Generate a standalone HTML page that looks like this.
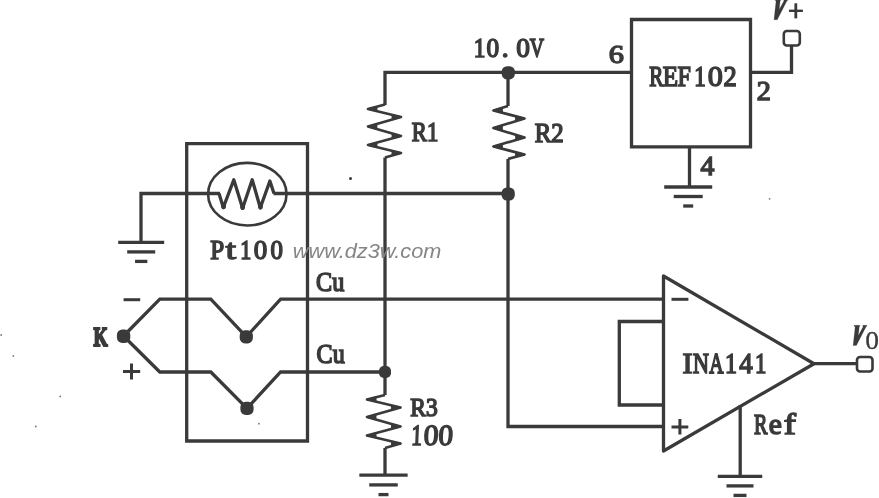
<!DOCTYPE html>
<html><head><meta charset="utf-8"><style>
html,body{margin:0;padding:0;background:#fff;}
svg{display:block;}
</style></head><body>
<svg width="879" height="498" viewBox="0 0 879 498">
<rect width="879" height="498" fill="#fff"/>
<path d="M385,105 L385,72.3 L631.5,72.3" fill="none" stroke="#3a3a3a" stroke-width="3.3" />
<polyline points="385.0,104.5 368.0,109.0 401.0,117.0 368.0,126.5 401.0,136.0 368.0,145.0 401.0,153.0 385.0,157.5" fill="none" stroke="#3a3a3a" stroke-width="2.7" stroke-linejoin="round"/>
<polygon points="368.0,109.0 376.7,106.7 376.7,111.1" fill="#3a3a3a" stroke="#3a3a3a" stroke-width="1.5" stroke-linejoin="round"/>
<polygon points="401.0,117.0 392.3,114.9 392.4,119.5" fill="#3a3a3a" stroke="#3a3a3a" stroke-width="1.5" stroke-linejoin="round"/>
<polygon points="368.0,126.5 376.6,124.0 376.6,129.0" fill="#3a3a3a" stroke="#3a3a3a" stroke-width="1.5" stroke-linejoin="round"/>
<polygon points="401.0,136.0 392.4,133.5 392.3,138.4" fill="#3a3a3a" stroke="#3a3a3a" stroke-width="1.5" stroke-linejoin="round"/>
<polygon points="368.0,145.0 376.7,142.6 376.7,147.1" fill="#3a3a3a" stroke="#3a3a3a" stroke-width="1.5" stroke-linejoin="round"/>
<polygon points="401.0,153.0 392.3,150.9 392.3,155.4" fill="#3a3a3a" stroke="#3a3a3a" stroke-width="1.5" stroke-linejoin="round"/>
<path d="M385,157.5 L385,395" fill="none" stroke="#3a3a3a" stroke-width="3.3" />
<path d="M508,72.3 L508,106" fill="none" stroke="#3a3a3a" stroke-width="3.3" />
<polyline points="508.0,106.0 493.5,110.5 524.5,118.5 493.5,128.0 524.5,137.5 493.5,146.5 524.5,154.5 508.0,159.0" fill="none" stroke="#3a3a3a" stroke-width="2.7" stroke-linejoin="round"/>
<polygon points="493.5,110.5 502.1,107.8 502.2,112.7" fill="#3a3a3a" stroke="#3a3a3a" stroke-width="1.5" stroke-linejoin="round"/>
<polygon points="524.5,118.5 515.8,116.3 515.9,121.1" fill="#3a3a3a" stroke="#3a3a3a" stroke-width="1.5" stroke-linejoin="round"/>
<polygon points="493.5,128.0 502.1,125.4 502.1,130.6" fill="#3a3a3a" stroke="#3a3a3a" stroke-width="1.5" stroke-linejoin="round"/>
<polygon points="524.5,137.5 515.9,134.9 515.9,140.0" fill="#3a3a3a" stroke="#3a3a3a" stroke-width="1.5" stroke-linejoin="round"/>
<polygon points="493.5,146.5 502.1,144.0 502.2,148.7" fill="#3a3a3a" stroke="#3a3a3a" stroke-width="1.5" stroke-linejoin="round"/>
<polygon points="524.5,154.5 515.8,152.3 515.8,156.9" fill="#3a3a3a" stroke="#3a3a3a" stroke-width="1.5" stroke-linejoin="round"/>
<path d="M508,159 L508,426.5 L663.5,426.5" fill="none" stroke="#3a3a3a" stroke-width="3.3" />
<polyline points="385.0,395.0 367.0,399.5 400.5,407.5 367.0,417.0 400.5,426.5 367.0,435.5 400.5,443.5 385.0,448.0" fill="none" stroke="#3a3a3a" stroke-width="2.7" stroke-linejoin="round"/>
<polygon points="367.0,399.5 375.7,397.3 375.8,401.6" fill="#3a3a3a" stroke="#3a3a3a" stroke-width="1.5" stroke-linejoin="round"/>
<polygon points="400.5,407.5 391.7,405.4 391.8,410.0" fill="#3a3a3a" stroke="#3a3a3a" stroke-width="1.5" stroke-linejoin="round"/>
<polygon points="367.0,417.0 375.7,414.5 375.7,419.5" fill="#3a3a3a" stroke="#3a3a3a" stroke-width="1.5" stroke-linejoin="round"/>
<polygon points="400.5,426.5 391.8,424.0 391.8,428.8" fill="#3a3a3a" stroke="#3a3a3a" stroke-width="1.5" stroke-linejoin="round"/>
<polygon points="367.0,435.5 375.7,433.2 375.8,437.6" fill="#3a3a3a" stroke="#3a3a3a" stroke-width="1.5" stroke-linejoin="round"/>
<polygon points="400.5,443.5 391.7,441.4 391.9,446.0" fill="#3a3a3a" stroke="#3a3a3a" stroke-width="1.5" stroke-linejoin="round"/>
<path d="M385,448 L385,475.2" fill="none" stroke="#3a3a3a" stroke-width="3.3" />
<path d="M631.5,19.5 L750.5,19.5 L750.5,146.8 L631.5,146.8 Z" fill="none" stroke="#3a3a3a" stroke-width="3.3" />
<path d="M750.5,72.3 L791.5,72.3 L791.5,46" fill="none" stroke="#3a3a3a" stroke-width="3.3" />
<rect x="783.8" y="31" width="16" height="14.5" rx="3" fill="#fff" stroke="#3a3a3a" stroke-width="2.6"/>
<path d="M689.5,146.8 L689.5,187" fill="none" stroke="#3a3a3a" stroke-width="3.3" />
<path d="M664.2,187 L712.2,187" fill="none" stroke="#3a3a3a" stroke-width="3.3" />
<path d="M673.7,196.5 L702.7,196.5" fill="none" stroke="#3a3a3a" stroke-width="3.3" />
<path d="M683.2,206.0 L693.2,206.0" fill="none" stroke="#3a3a3a" stroke-width="3.3" />
<path d="M118.19999999999999,242.4 L164.2,242.4" fill="none" stroke="#3a3a3a" stroke-width="3.3" />
<path d="M127.19999999999999,251.9 L155.2,251.9" fill="none" stroke="#3a3a3a" stroke-width="3.3" />
<path d="M135.04999999999998,261.4 L147.35,261.4" fill="none" stroke="#3a3a3a" stroke-width="3.3" />
<path d="M359.35,475.2 L407.65,475.2" fill="none" stroke="#3a3a3a" stroke-width="3.3" />
<path d="M369.25,484.9 L397.75,484.9" fill="none" stroke="#3a3a3a" stroke-width="3.3" />
<path d="M378.5,494.59999999999997 L388.5,494.59999999999997" fill="none" stroke="#3a3a3a" stroke-width="3.3" />
<path d="M717.75,476.4 L762.25,476.4" fill="none" stroke="#3a3a3a" stroke-width="3.3" />
<path d="M726.5,485.9 L753.5,485.9" fill="none" stroke="#3a3a3a" stroke-width="3.3" />
<path d="M733.5,495.4 L746.5,495.4" fill="none" stroke="#3a3a3a" stroke-width="3.3" />
<path d="M141,242.4 L141,193.5 L220,193.5" fill="none" stroke="#3a3a3a" stroke-width="3.3" />
<path d="M273.5,193.5 L508,193.5" fill="none" stroke="#3a3a3a" stroke-width="3.3" />
<path d="M186.7,143.6 L307.5,143.6 L307.5,441 L186.7,441 Z" fill="none" stroke="#3a3a3a" stroke-width="3.3" />
<ellipse cx="247.3" cy="194.2" rx="39.2" ry="31.3" fill="none" stroke="#3a3a3a" stroke-width="2.6"/>
<path d="M219,193.5 L223.3,207.5 L233.8,179.8 L242.6,208.3 L252.2,179.8 L260.3,207.8 L269.9,181 L274,193.5" fill="none" stroke="#3a3a3a" stroke-width="3.3" stroke-linejoin="round"/>
<ellipse cx="223.6" cy="206.3" rx="2.4" ry="3" fill="#3a3a3a"/>
<ellipse cx="242.6" cy="207" rx="2.4" ry="3" fill="#3a3a3a"/>
<ellipse cx="260.5" cy="206.6" rx="2.4" ry="3" fill="#3a3a3a"/>
<path d="M123.5,336 L159.8,299.2 L210.8,299.2 L246.3,336.8 L280.6,299.2 L663.5,299.2" fill="none" stroke="#3a3a3a" stroke-width="3.3" />
<path d="M123.5,336 L159.8,372 L210.8,372 L247,408.3 L280.6,372 L385,372" fill="none" stroke="#3a3a3a" stroke-width="3.3" />
<path d="M663.5,276 L814,363.7 L663.5,451 Z" fill="none" stroke="#3a3a3a" stroke-width="3.3" stroke-linejoin="round"/>
<path d="M663.5,321.5 L619.3,321.5 L619.3,405 L663.5,405" fill="none" stroke="#3a3a3a" stroke-width="3.3" />
<path d="M814,363.7 L857,363.7" fill="none" stroke="#3a3a3a" stroke-width="3.3" />
<rect x="857" y="357" width="15.5" height="14.5" rx="3" fill="#fff" stroke="#3a3a3a" stroke-width="2.6"/>
<path d="M740.2,405.3 L740.2,476.4" fill="none" stroke="#3a3a3a" stroke-width="3.3" />
<path d="M671.5,299.3 L688.4,299.3" fill="none" stroke="#3a3a3a" stroke-width="3" />
<path d="M671.5,427 L688.3,427 M679.9,419 L679.9,434.6" fill="none" stroke="#3a3a3a" stroke-width="3" />
<path d="M123.6,299.7 L140.2,299.7" fill="none" stroke="#3a3a3a" stroke-width="3" />
<path d="M123,371.5 L140.2,371.5 M131.5,363.6 L131.5,379.4" fill="none" stroke="#3a3a3a" stroke-width="3" />
<path d="M789,10.8 L802.9,10.8" fill="none" stroke="#3a3a3a" stroke-width="2.4" />
<path d="M795.8,3.3 L795.8,18.4" fill="none" stroke="#3a3a3a" stroke-width="2.8" />
<rect x="501.7" y="66.2" width="13.2" height="13.2" rx="5.3" fill="#3a3a3a"/>
<rect x="501.6" y="187.4" width="13.2" height="13.2" rx="5.3" fill="#3a3a3a"/>
<rect x="116.9" y="329.5" width="13.4" height="13.4" rx="5.4" fill="#3a3a3a"/>
<rect x="239.7" y="330.2" width="13.2" height="13.2" rx="5.3" fill="#3a3a3a"/>
<rect x="240.4" y="401.7" width="13.2" height="13.2" rx="5.3" fill="#3a3a3a"/>
<rect x="379.0" y="366.0" width="12.0" height="12.0" rx="4.8" fill="#3a3a3a"/>
<circle cx="350.5" cy="178.6" r="1.5" fill="#3a3a3a"/>
<circle cx="769.6" cy="198.8" r="0.9" fill="#777"/>
<circle cx="1.2" cy="335" r="0.9" fill="#777"/>
<circle cx="13.3" cy="355.9" r="0.9" fill="#777"/>
<circle cx="60.2" cy="396.4" r="0.9" fill="#777"/>
<circle cx="258.9" cy="423.7" r="0.9" fill="#777"/>
<circle cx="35.8" cy="426.5" r="0.9" fill="#777"/>
<path d="M854.1,325.3 L859.8,325.3 L859.8,326.5 L859.3,326.5 L858.3,335.5 L863.3,326.5 L862.8,326.5 L862.8,325.3 L866.8,325.3 L866.8,326.5 L866.2,326.5 L856.4,345.6 L853.1,345.6 L855.2,326.5 L854.1,326.5 Z" fill="#3a3a3a" stroke="#3a3a3a" stroke-width="0.2"/>
<path d="M854.1,325.3 L859.8,325.3 L859.8,326.5 L859.3,326.5 L858.3,335.5 L863.3,326.5 L862.8,326.5 L862.8,325.3 L866.8,325.3 L866.8,326.5 L866.2,326.5 L856.4,345.6 L853.1,345.6 L855.2,326.5 L854.1,326.5 Z" transform="translate(-79.1,-325.9)" fill="#3a3a3a" stroke="#3a3a3a" stroke-width="0.2"/>
<g style="will-change:transform">
<g transform="translate(473.65,56.62) scale(0.7750,0.9116)"><text x="0" y="0" font-family="Liberation Serif" font-weight="normal" font-style="normal" font-size="30.00" fill="#3a3a3a" stroke="#3a3a3a" stroke-width="1.50" vector-effect="non-scaling-stroke" xml:space="preserve">1</text></g>
<g transform="translate(486.58,56.62) scale(0.8429,0.9116)"><text x="0" y="0" font-family="Liberation Serif" font-weight="normal" font-style="normal" font-size="30.00" fill="#3a3a3a" stroke="#3a3a3a" stroke-width="1.50" vector-effect="non-scaling-stroke" xml:space="preserve">0</text></g>
<g transform="translate(501.75,56.62) scale(0.9200,0.9116)"><text x="0" y="0" font-family="Liberation Serif" font-weight="normal" font-style="normal" font-size="30.00" fill="#3a3a3a" stroke="#3a3a3a" stroke-width="1.50" vector-effect="non-scaling-stroke" xml:space="preserve">.</text></g>
<g transform="translate(516.24,56.62) scale(0.9143,0.9116)"><text x="0" y="0" font-family="Liberation Serif" font-weight="normal" font-style="normal" font-size="30.00" fill="#3a3a3a" stroke="#3a3a3a" stroke-width="1.50" vector-effect="non-scaling-stroke" xml:space="preserve">0</text></g>
<g transform="translate(529.83,56.62) scale(0.6578,0.9116)"><text x="0" y="0" font-family="Liberation Serif" font-weight="normal" font-style="normal" font-size="30.00" fill="#3a3a3a" stroke="#3a3a3a" stroke-width="1.50" vector-effect="non-scaling-stroke" xml:space="preserve">V</text></g>
<g transform="translate(649.30,85.58) scale(0.7036,0.9647)"><text x="0" y="0" font-family="Liberation Serif" font-weight="normal" font-style="normal" font-size="30.00" fill="#3a3a3a" stroke="#3a3a3a" stroke-width="1.50" vector-effect="non-scaling-stroke" xml:space="preserve">R</text></g>
<g transform="translate(662.80,85.58) scale(0.8343,0.9647)"><text x="0" y="0" font-family="Liberation Serif" font-weight="normal" font-style="normal" font-size="30.00" fill="#3a3a3a" stroke="#3a3a3a" stroke-width="1.50" vector-effect="non-scaling-stroke" xml:space="preserve">E</text></g>
<g transform="translate(677.40,85.58) scale(0.8000,0.9647)"><text x="0" y="0" font-family="Liberation Serif" font-weight="normal" font-style="normal" font-size="30.00" fill="#3a3a3a" stroke="#3a3a3a" stroke-width="1.50" vector-effect="non-scaling-stroke" xml:space="preserve">F</text></g>
<g transform="translate(694.27,85.58) scale(0.7667,0.9647)"><text x="0" y="0" font-family="Liberation Serif" font-weight="normal" font-style="normal" font-size="30.00" fill="#3a3a3a" stroke="#3a3a3a" stroke-width="1.50" vector-effect="non-scaling-stroke" xml:space="preserve">1</text></g>
<g transform="translate(707.70,85.58) scale(1.0071,0.9647)"><text x="0" y="0" font-family="Liberation Serif" font-weight="normal" font-style="normal" font-size="30.00" fill="#3a3a3a" stroke="#3a3a3a" stroke-width="1.50" vector-effect="non-scaling-stroke" xml:space="preserve">0</text></g>
<g transform="translate(723.46,85.58) scale(0.8815,0.9647)"><text x="0" y="0" font-family="Liberation Serif" font-weight="normal" font-style="normal" font-size="30.00" fill="#3a3a3a" stroke="#3a3a3a" stroke-width="1.50" vector-effect="non-scaling-stroke" xml:space="preserve">2</text></g>
<g transform="translate(682.55,373.08) scale(1.0105,0.9647)"><text x="0" y="0" font-family="Liberation Serif" font-weight="normal" font-style="normal" font-size="30.00" fill="#3a3a3a" stroke="#3a3a3a" stroke-width="1.50" vector-effect="non-scaling-stroke" xml:space="preserve">I</text></g>
<g transform="translate(693.00,373.08) scale(0.7356,0.9647)"><text x="0" y="0" font-family="Liberation Serif" font-weight="normal" font-style="normal" font-size="30.00" fill="#3a3a3a" stroke="#3a3a3a" stroke-width="1.50" vector-effect="non-scaling-stroke" xml:space="preserve">N</text></g>
<g transform="translate(709.33,373.08) scale(0.6593,0.9647)"><text x="0" y="0" font-family="Liberation Serif" font-weight="normal" font-style="normal" font-size="30.00" fill="#3a3a3a" stroke="#3a3a3a" stroke-width="1.50" vector-effect="non-scaling-stroke" xml:space="preserve">A</text></g>
<g transform="translate(725.10,373.08) scale(0.8000,0.9647)"><text x="0" y="0" font-family="Liberation Serif" font-weight="normal" font-style="normal" font-size="30.00" fill="#3a3a3a" stroke="#3a3a3a" stroke-width="1.50" vector-effect="non-scaling-stroke" xml:space="preserve">1</text></g>
<g transform="translate(739.22,373.08) scale(0.8968,0.9647)"><text x="0" y="0" font-family="Liberation Serif" font-weight="normal" font-style="normal" font-size="30.00" fill="#3a3a3a" stroke="#3a3a3a" stroke-width="1.50" vector-effect="non-scaling-stroke" xml:space="preserve">4</text></g>
<g transform="translate(755.08,373.08) scale(0.7583,0.9647)"><text x="0" y="0" font-family="Liberation Serif" font-weight="normal" font-style="normal" font-size="30.00" fill="#3a3a3a" stroke="#3a3a3a" stroke-width="1.50" vector-effect="non-scaling-stroke" xml:space="preserve">1</text></g>
<g transform="translate(210.30,259.00) scale(0.8369,0.9349)"><text x="0" y="0" font-family="Liberation Serif" font-weight="normal" font-style="normal" font-size="30.00" fill="#3a3a3a" stroke="#3a3a3a" stroke-width="1.50" vector-effect="non-scaling-stroke" xml:space="preserve">P</text></g>
<g transform="translate(225.44,259.00) scale(1.2737,0.9349)"><text x="0" y="0" font-family="Liberation Serif" font-weight="normal" font-style="normal" font-size="30.00" fill="#3a3a3a" stroke="#3a3a3a" stroke-width="1.50" vector-effect="non-scaling-stroke" xml:space="preserve">t</text></g>
<g transform="translate(240.23,259.00) scale(0.7333,0.9349)"><text x="0" y="0" font-family="Liberation Serif" font-weight="normal" font-style="normal" font-size="30.00" fill="#3a3a3a" stroke="#3a3a3a" stroke-width="1.50" vector-effect="non-scaling-stroke" xml:space="preserve">1</text></g>
<g transform="translate(253.85,259.00) scale(0.9000,0.9349)"><text x="0" y="0" font-family="Liberation Serif" font-weight="normal" font-style="normal" font-size="30.00" fill="#3a3a3a" stroke="#3a3a3a" stroke-width="1.50" vector-effect="non-scaling-stroke" xml:space="preserve">0</text></g>
<g transform="translate(270.39,259.00) scale(0.8286,0.9349)"><text x="0" y="0" font-family="Liberation Serif" font-weight="normal" font-style="normal" font-size="30.00" fill="#3a3a3a" stroke="#3a3a3a" stroke-width="1.50" vector-effect="non-scaling-stroke" xml:space="preserve">0</text></g>
<g transform="translate(754.00,433.98) scale(0.6699,0.9600)"><text x="0" y="0" font-family="Liberation Serif" font-weight="normal" font-style="normal" font-size="30.00" fill="#3a3a3a" stroke="#3a3a3a" stroke-width="1.50" vector-effect="non-scaling-stroke" xml:space="preserve">R</text></g>
<g transform="translate(768.81,433.98) scale(0.9840,0.9600)"><text x="0" y="0" font-family="Liberation Serif" font-weight="normal" font-style="normal" font-size="30.00" fill="#3a3a3a" stroke="#3a3a3a" stroke-width="1.50" vector-effect="non-scaling-stroke" xml:space="preserve">e</text></g>
<g transform="translate(783.80,433.98) scale(1.2190,0.9600)"><text x="0" y="0" font-family="Liberation Serif" font-weight="normal" font-style="normal" font-size="30.00" fill="#3a3a3a" stroke="#3a3a3a" stroke-width="1.50" vector-effect="non-scaling-stroke" xml:space="preserve">f</text></g>
<g transform="translate(410.94,445.17) scale(0.7184,0.9788)"><text x="0" y="0" transform="skewX(-3)" font-family="Liberation Serif" font-weight="normal" font-style="normal" font-size="30.00" fill="#3a3a3a" stroke="#3a3a3a" stroke-width="1.50" vector-effect="non-scaling-stroke" xml:space="preserve">1</text></g>
<g transform="translate(423.31,445.17) scale(0.9895,0.9788)"><text x="0" y="0" transform="skewX(-3)" font-family="Liberation Serif" font-weight="normal" font-style="normal" font-size="30.00" fill="#3a3a3a" stroke="#3a3a3a" stroke-width="1.50" vector-effect="non-scaling-stroke" xml:space="preserve">0</text></g>
<g transform="translate(438.02,445.17) scale(0.9754,0.9788)"><text x="0" y="0" transform="skewX(-3)" font-family="Liberation Serif" font-weight="normal" font-style="normal" font-size="30.00" fill="#3a3a3a" stroke="#3a3a3a" stroke-width="1.50" vector-effect="non-scaling-stroke" xml:space="preserve">0</text></g>
<g transform="translate(608.69,63.37) scale(1.0105,0.8322)"><text x="0" y="0" font-family="Liberation Serif" font-weight="normal" font-style="normal" font-size="30.00" fill="#3a3a3a" stroke="#3a3a3a" stroke-width="1.50" vector-effect="non-scaling-stroke" xml:space="preserve">6</text></g>
<g transform="translate(756.83,100.13) scale(0.9407,0.8977)"><text x="0" y="0" font-family="Liberation Serif" font-weight="normal" font-style="normal" font-size="30.00" fill="#3a3a3a" stroke="#3a3a3a" stroke-width="1.50" vector-effect="non-scaling-stroke" xml:space="preserve">2</text></g>
<g transform="translate(700.43,175.19) scale(0.9226,0.9070)"><text x="0" y="0" font-family="Liberation Serif" font-weight="normal" font-style="normal" font-size="30.00" fill="#3a3a3a" stroke="#3a3a3a" stroke-width="1.50" vector-effect="non-scaling-stroke" xml:space="preserve">4</text></g>
<g transform="translate(411.80,141.32) scale(0.7559,0.9070)"><text x="0" y="0" font-family="Liberation Serif" font-weight="normal" font-style="normal" font-size="30.00" fill="#3a3a3a" stroke="#3a3a3a" stroke-width="1.50" vector-effect="non-scaling-stroke" xml:space="preserve">R1</text></g>
<g transform="translate(534.80,142.34) scale(0.8265,0.8837)"><text x="0" y="0" font-family="Liberation Serif" font-weight="normal" font-style="normal" font-size="30.00" fill="#3a3a3a" stroke="#3a3a3a" stroke-width="1.50" vector-effect="non-scaling-stroke" xml:space="preserve">R2</text></g>
<g transform="translate(410.20,415.63) scale(0.7855,0.8736)"><text x="0" y="0" font-family="Liberation Serif" font-weight="normal" font-style="normal" font-size="30.00" fill="#3a3a3a" stroke="#3a3a3a" stroke-width="1.50" vector-effect="non-scaling-stroke" xml:space="preserve">R3</text></g>
<g transform="translate(316.10,291.49) scale(0.8058,0.9149)"><text x="0" y="0" font-family="Liberation Serif" font-weight="normal" font-style="normal" font-size="30.00" fill="#3a3a3a" stroke="#3a3a3a" stroke-width="1.50" vector-effect="non-scaling-stroke" xml:space="preserve">Cu</text></g>
<g transform="translate(316.60,362.62) scale(0.8029,0.8782)"><text x="0" y="0" font-family="Liberation Serif" font-weight="normal" font-style="normal" font-size="30.00" fill="#3a3a3a" stroke="#3a3a3a" stroke-width="1.50" vector-effect="non-scaling-stroke" xml:space="preserve">Cu</text></g>
<g transform="translate(93.60,345.66) scale(0.6082,0.9379)"><text x="0" y="0" font-family="Liberation Serif" font-weight="bold" font-style="normal" font-size="30.00" fill="#3a3a3a" stroke="#3a3a3a" stroke-width="1.80" vector-effect="non-scaling-stroke" xml:space="preserve">K</text></g>
<g transform="translate(292.81,258.44) scale(0.7248,0.6562)"><text x="0" y="0" font-family="Liberation Sans" font-weight="normal" font-style="italic" font-size="30.00" fill="#858585" xml:space="preserve">www.dz3w.com</text></g>
<g transform="translate(865.18,348.99) scale(0.9154,0.8244)"><text x="0" y="0" font-family="Liberation Serif" font-weight="normal" font-style="normal" font-size="30.00" fill="#3a3a3a" stroke="#3a3a3a" stroke-width="0.30" vector-effect="non-scaling-stroke" xml:space="preserve">0</text></g>
</g>
</svg>
</body></html>
